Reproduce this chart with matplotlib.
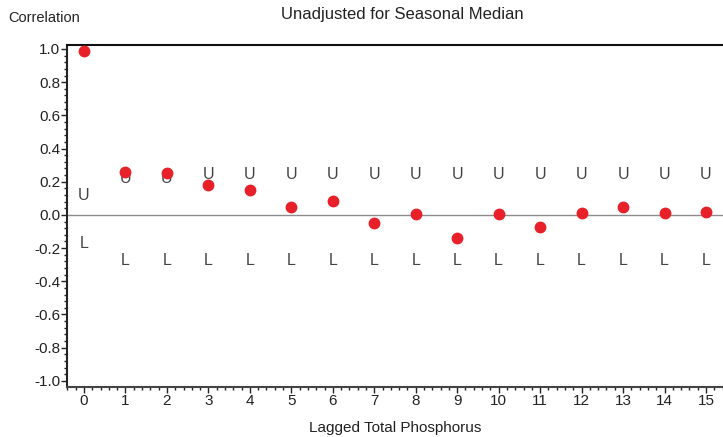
import matplotlib
matplotlib.use("Agg")
import matplotlib.pyplot as plt
from matplotlib.ticker import AutoMinorLocator

plt.rcParams['font.family'] = ['Liberation Sans', 'DejaVu Sans']

lags = list(range(16))
correlation = [0.99, 0.26, 0.25, 0.18, 0.15, 0.05, 0.085, -0.05, 0.005, -0.14,
               0.005, -0.07, 0.01, 0.05, 0.01, 0.02]
upper = [0.12, 0.22, 0.22] + [0.245] * 13
lower = [-0.17] + [-0.275] * 15
yticks = [-1.0, -0.8, -0.6, -0.4, -0.2, 0.0, 0.2, 0.4, 0.6, 0.8, 1.0]

fig = plt.figure(figsize=(7.23, 4.37), dpi=100)
ax = fig.add_axes([67/723, 50/437, (723-67)/723, (387-45)/437])
ax.set_xlim(-0.41, 15.41)
ax.set_ylim(-1.037, 1.024)

ax.axhline(0, color='#8c8c8c', lw=1.0, zorder=1)

for x, u, l in zip(lags, upper, lower):
    ax.text(x, u, 'U', ha='center', va='center', fontsize=11.5, color='#444444',
            fontfamily=['Liberation Sans'], zorder=2)
    ax.text(x, l, 'L', ha='center', va='center', fontsize=11.5, color='#444444',
            fontfamily=['Liberation Sans'], zorder=2)

ax.plot(lags, correlation, 'o', color='#e8202a', markersize=7.5, zorder=3, clip_on=False)

ax.set_yticks(yticks)
ax.set_yticklabels([f"{v:.1f}" for v in yticks])
ax.set_xticks(lags)
ax.xaxis.set_minor_locator(AutoMinorLocator(5))
ax.yaxis.set_minor_locator(AutoMinorLocator(5))
ax.tick_params(axis='both', which='major', length=4, width=1, labelsize=11, colors='#222222', pad=1)
ax.tick_params(axis='both', which='minor', length=2.5, width=1, color='#222222')

ax.spines['right'].set_visible(False)
ax.spines['top'].set_color('#111111')
ax.spines['top'].set_linewidth(1.5)
ax.spines['left'].set_color('#222222')
ax.spines['left'].set_linewidth(1.5)
ax.spines['bottom'].set_color('#444444')
ax.spines['bottom'].set_linewidth(1.5)

fig.text(395/723, 1 - 428/437, 'Lagged Total Phosphorus', fontsize=11, va='center',
         ha='center', color='#222222')
fig.text(8/723, 1 - 18/437, 'Correlation', fontsize=10.5, va='center', ha='left', color='#222222')
fig.text(402/723, 1 - 15/437, 'Unadjusted for Seasonal Median', fontsize=12, va='center',
         ha='center', color='#222222')

fig.savefig('out.png', dpi=100)
